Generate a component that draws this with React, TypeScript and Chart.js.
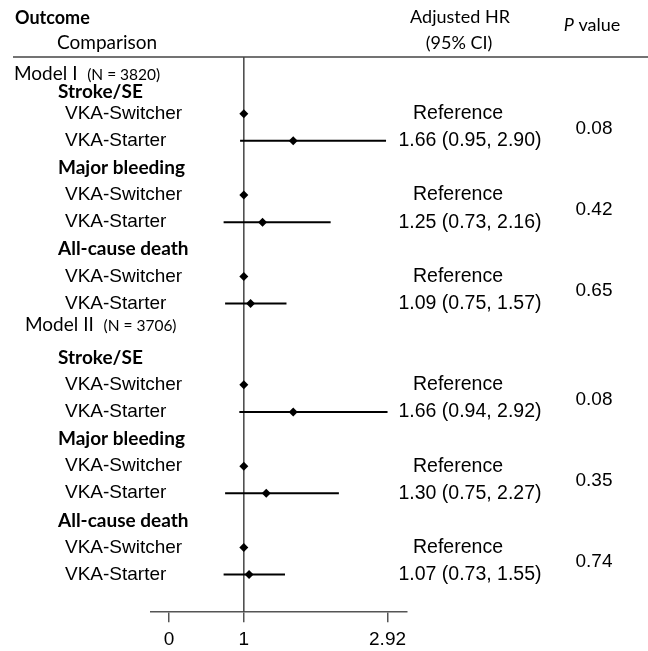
import React, { useEffect, useRef } from "react";
import { Chart, registerables } from "chart.js";

Chart.register(...registerables);

// ---- data ----
const models = ["Model I", "Model II"];
const modelN = ["(N = 3820)", "(N = 3706)"];
const outcomes = ["Stroke/SE", "Major bleeding", "All-cause death"];
const comparisons = ["VKA-Switcher", "VKA-Starter"];
const referenceHR = 1;
const starterHR = [1.66, 1.25, 1.09, 1.66, 1.3, 1.07];
const starterLo = [0.95, 0.73, 0.75, 0.94, 0.75, 0.73];
const starterHi = [2.9, 2.16, 1.57, 2.92, 2.27, 1.55];
const pValues = ["0.08", "0.42", "0.65", "0.08", "0.35", "0.74"];
const xTickValues = [0, 1, 2.92];
const xTickLabels = ["0", "1", "2.92"];

// ---- row structure ----
type Row = { kind: "model" | "outcome" | "comp"; label: string; idx: number; m: number; k: number };
const rows: Row[] = [];
models.forEach((m, mi) => {
  rows.push({ kind: "model", label: m, idx: rows.length, m: mi, k: -1 });
  outcomes.forEach((o, oi) => {
    const k = mi * outcomes.length + oi;
    rows.push({ kind: "outcome", label: o, idx: rows.length, m: mi, k });
    comparisons.forEach((c) => {
      rows.push({ kind: "comp", label: c, idx: rows.length, m: mi, k });
    });
  });
});
const switcherRows = rows.filter((r) => r.kind === "comp" && r.label === comparisons[0]);
const starterRows = rows.filter((r) => r.kind === "comp" && r.label === comparisons[1]);

const CAL = "Lato, 'Open Sans', sans-serif";
const ARIAL = "'Liberation Sans', Arial, sans-serif";

const tablePlugin = {
  id: "tableText",
  afterDraw(chart: any) {
    const { ctx, chartArea, scales } = chart;
    const y = scales.y;
    ctx.save();
    ctx.fillStyle = "#000";
    // header line
    ctx.strokeStyle = "#444";
    ctx.lineWidth = 1.5;
    ctx.beginPath();
    ctx.moveTo(13, chartArea.top);
    ctx.lineTo(648, chartArea.top);
    ctx.stroke();

    // headers
    ctx.textBaseline = "middle";
    ctx.textAlign = "left";
    ctx.font = `bold 18px ${CAL}`;
    ctx.fillText("Outcome", 15, 18);
    ctx.font = `19px ${CAL}`;
    ctx.fillText("Comparison", 57, 43);
    ctx.font = `18px ${CAL}`;
    ctx.textAlign = "center";
    ctx.fillText("Adjusted HR", 460, 17);
    ctx.fillText("(95% CI)", 459, 43);
    // P value
    ctx.textAlign = "left";
    ctx.font = `italic 18px ${CAL}`;
    const pW = ctx.measureText("P").width;
    ctx.font = `18px ${CAL}`;
    const vW = ctx.measureText(" value").width;
    const px0 = 592 - (pW + vW) / 2;
    ctx.font = `italic 18px ${CAL}`;
    ctx.fillText("P", px0, 25);
    ctx.font = `18px ${CAL}`;
    ctx.fillText(" value", px0 + pW, 25);

    // rows
    rows.forEach((r) => {
      if (r.kind === "model") {
        const shift = r.m === 0 ? 0.5 : -0.22;
        const cy = y.getPixelForValue(r.idx + shift);
        const x0 = r.m === 0 ? 14 : 25;
        ctx.textBaseline = "alphabetic";
        ctx.font = `19px ${CAL}`;
        ctx.fillText(models[r.m], x0, cy + 6.5);
        const w = ctx.measureText(models[r.m] + "  ").width;
        ctx.font = `15.5px ${CAL}`;
        ctx.fillText(modelN[r.m], x0 + w, cy + 6.5);
      } else if (r.kind === "outcome") {
        const shift = r.idx === 1 ? 0.2 : 0;
        const cy = y.getPixelForValue(r.idx + shift);
        ctx.textBaseline = "middle";
        ctx.font = `bold 19px ${CAL}`;
        ctx.fillText(r.label, 58, cy);
      } else {
        const cy = y.getPixelForValue(r.idx);
        ctx.textBaseline = "middle";
        ctx.font = `19px ${ARIAL}`;
        ctx.fillText(r.label, 65, cy);
      }
    });

    // right columns
    ctx.textAlign = "center";
    ctx.textBaseline = "middle";
    ctx.font = `19.5px ${ARIAL}`;
    switcherRows.forEach((r) => {
      ctx.fillText("Reference", 458, y.getPixelForValue(r.idx));
    });
    starterRows.forEach((r, i) => {
      const txt = `${starterHR[i].toFixed(2)} (${starterLo[i].toFixed(2)}, ${starterHi[i].toFixed(2)})`;
      ctx.font = `19.5px ${ARIAL}`;
      ctx.fillText(txt, 470, y.getPixelForValue(r.idx));
      const yMid = (y.getPixelForValue(r.idx) + y.getPixelForValue(r.idx - 1)) / 2;
      ctx.font = `19px ${ARIAL}`;
      ctx.fillText(pValues[i], 594, yMid + 1);
    });
    ctx.restore();
  },
};

export default function App() {
  const ref = useRef<HTMLCanvasElement | null>(null);
  useEffect(() => {
    const canvas = ref.current;
    if (!canvas) return;
    const yMin = -0.092;
    const yMax = 20.387;
    const ciSets = starterRows.map((r, i) => ({
      type: "line" as const,
      data: [
        { x: starterLo[i], y: r.idx },
        { x: starterHi[i], y: r.idx },
      ],
      borderColor: "#000",
      borderWidth: 2,
      pointRadius: 0,
      order: 1,
    }));
    const points = [
      ...switcherRows.map((r) => ({ x: referenceHR, y: r.idx })),
      ...starterRows.map((r, i) => ({ x: starterHR[i], y: r.idx })),
    ];
    const chart = new Chart(canvas, {
      type: "scatter",
      data: {
        datasets: [
          {
            data: points,
            pointStyle: "rectRot",
            pointRadius: 4.5,
            backgroundColor: "#000",
            borderColor: "#000",
            borderWidth: 0,
            order: 0,
          } as any,
          ...ciSets,
          {
            type: "line",
            data: [
              { x: referenceHR, y: yMin },
              { x: referenceHR, y: yMax },
            ],
            borderColor: "#444",
            borderWidth: 1.5,
            pointRadius: 0,
            order: 2,
          },
        ],
      },
      options: {
        responsive: false,
        animation: false,
        events: [],
        layout: { padding: { left: 151, right: 241, top: 57, bottom: -6 } },
        plugins: { legend: { display: false }, tooltip: { enabled: false } },
        scales: {
          x: {
            type: "linear",
            min: -0.24,
            max: 3.18,
            afterBuildTicks: (axis: any) => {
              axis.ticks = xTickValues.map((v) => ({ value: v }));
            },
            ticks: {
              autoSkip: false,
              maxRotation: 0,
              color: "#000",
              padding: 6,
              font: { family: "'Liberation Sans', Arial, sans-serif", size: 19 },
              callback: (v: any) => {
                const i = xTickValues.indexOf(Number(v));
                return i >= 0 ? xTickLabels[i] : "";
              },
            },
            grid: { drawOnChartArea: false, drawTicks: true, tickLength: 10, color: "#555", lineWidth: 1.5 },
            border: { display: true, color: "#555", width: 1.5 },
          },
          y: { type: "linear", reverse: true, min: yMin, max: yMax, display: false },
        },
      } as any,
      plugins: [tablePlugin],
    });
    return () => chart.destroy();
  }, []);
  return (
    <div style={{ position: "absolute", left: 0, top: 0, width: 648, height: 651, background: "#fff" }}>
      <canvas ref={ref} width={648} height={651} style={{ display: "block" }} />
    </div>
  );
}
